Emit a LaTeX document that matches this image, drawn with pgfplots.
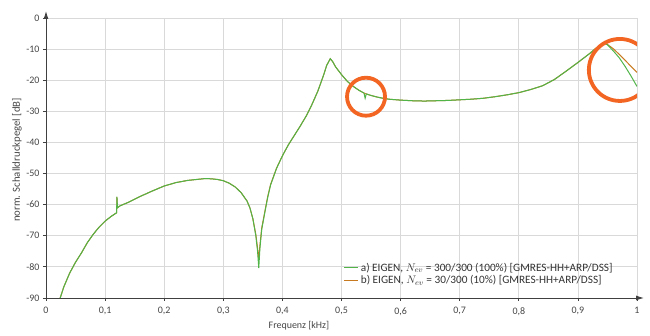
\documentclass[border=0pt]{standalone}
\usepackage{fontspec}
\setmainfont{Carlito}
\usepackage{pgfplots}
\pgfplotsset{compat=1.18}
\usetikzlibrary{calc,arrows.meta}
\definecolor{cgreen}{RGB}{80,180,72}
\definecolor{corange}{RGB}{200,122,32}
\definecolor{ccirc}{RGB}{242,101,34}
\definecolor{axisgray}{RGB}{64,64,64}
\definecolor{labelgray}{RGB}{70,70,70}
\definecolor{gridgray}{RGB}{217,217,217}
\begin{document}
\begin{tikzpicture}
\begin{axis}[
  scale only axis, width=591bp, height=280bp,
  xmin=0, xmax=1, ymin=-90, ymax=0,
  axis lines=left,
  axis line style={color=axisgray, line width=0.9bp, -{Latex[length=8bp,width=5bp]}, shorten >=-7bp},
  xtick={0,0.1,0.2,0.3,0.4,0.5,0.6,0.7,0.8,0.9,1},
  ytick={-90,-80,-70,-60,-50,-40,-30,-20,-10,0},
  grid=major, major grid style={color=gridgray, line width=0.8bp},
  tick align=outside, major tick length=3bp,
  tick style={color=axisgray, line width=0.8bp},
  /pgf/number format/use comma,
  /pgf/number format/assume math mode=true,
  ticklabel style={font=\fontsize{10}{11}\selectfont, color=labelgray},
  xticklabel style={yshift=-3bp},
  legend cell align=left,
  legend style={draw=none, fill=none, at={(rel axis cs:0.502,0.137)}, anchor=north west,
    font=\fontsize{11.3}{12}\selectfont, text=black!80, row sep=-1pt, inner sep=1pt},
  legend image code/.code={\draw[#1] (0bp,0bp) -- (14bp,0bp);},
]
\coordinate (sw) at (rel axis cs:0,0);
\coordinate (ne) at (rel axis cs:1,1);
\addlegendimage{cgreen, line width=1bp}
\addlegendentry{a) EIGEN, $N_{ev}$ = 300/300 (100\%) [GMRES-HH+ARP/DSS]}
\addlegendimage{corange, line width=1bp}
\addlegendentry{b) EIGEN, $N_{ev}$ = 30/300 (10\%) [GMRES-HH+ARP/DSS]}
% b) orange
\addplot[corange, line width=1bp, forget plot] coordinates {
(0.024,-90) (0.03,-86.5) (0.04,-82) (0.05,-78.5) (0.06,-75.5) (0.07,-72.2) (0.08,-69.5) (0.09,-67.2)
(0.10,-65.3) (0.11,-63.8) (0.1195,-62.6) (0.1200,-57.6) (0.1210,-61) (0.125,-60.4) (0.135,-59.6)
(0.14,-59.2) (0.16,-57.3) (0.18,-55.6) (0.20,-54.0) (0.22,-52.9) (0.24,-52.2) (0.26,-51.8) (0.27,-51.6)
(0.28,-51.7) (0.29,-51.9) (0.30,-52.3) (0.31,-53.1) (0.32,-54.3) (0.33,-56.1) (0.34,-58.8) (0.345,-61)
(0.35,-64.5) (0.355,-69.5) (0.358,-74) (0.360,-77.5) (0.362,-73) (0.365,-67.5) (0.37,-62.5) (0.375,-57.5)
(0.38,-53.5) (0.39,-48.3) (0.40,-44.3) (0.41,-40.8) (0.42,-37.8) (0.43,-34.8) (0.44,-31.6) (0.45,-27.8)
(0.46,-23.5) (0.47,-18.2) (0.475,-15.2) (0.481,-13.1) (0.485,-14.0) (0.49,-15.7) (0.50,-18.2) (0.51,-20.4)
(0.52,-22.0) (0.53,-23.3) (0.54,-24.3) (0.55,-24.9) (0.56,-25.4) (0.57,-25.8) (0.58,-26.1) (0.60,-26.4)
(0.62,-26.6) (0.64,-26.7) (0.66,-26.6) (0.68,-26.5) (0.70,-26.3) (0.72,-26.1) (0.74,-25.8) (0.76,-25.3)
(0.78,-24.7) (0.80,-24.0) (0.82,-23.0) (0.84,-21.8) (0.86,-19.8) (0.88,-17.1) (0.90,-14.3) (0.92,-11.4)
(0.93,-9.8) (0.94,-8.6) (0.946,-8.2) (0.95,-8.5) (0.96,-9.9) (0.97,-11.7) (0.98,-13.6) (0.99,-15.6) (1.00,-17.5)
};
% a) green
\addplot[cgreen, line width=1bp, forget plot] coordinates {
(0.024,-90) (0.03,-86.5) (0.04,-82) (0.05,-78.5) (0.06,-75.5) (0.07,-72.2) (0.08,-69.5) (0.09,-67.2)
(0.10,-65.3) (0.11,-63.8) (0.1195,-62.6) (0.1200,-57.4) (0.1210,-61) (0.125,-60.4) (0.135,-59.6)
(0.14,-59.2) (0.16,-57.3) (0.18,-55.6) (0.20,-54.0) (0.22,-52.9) (0.24,-52.2) (0.26,-51.8) (0.27,-51.6)
(0.28,-51.7) (0.29,-51.9) (0.30,-52.3) (0.31,-53.1) (0.32,-54.3) (0.33,-56.1) (0.34,-58.8) (0.345,-61)
(0.35,-64.5) (0.355,-70) (0.358,-75) (0.360,-80.4) (0.362,-74) (0.365,-68) (0.37,-62.8) (0.375,-57.8)
(0.38,-53.7) (0.39,-48.4) (0.40,-44.3) (0.41,-40.8) (0.42,-37.8) (0.43,-34.8) (0.44,-31.6) (0.45,-27.8)
(0.46,-23.5) (0.47,-18.2) (0.475,-15.2) (0.481,-13.1) (0.485,-14.0) (0.49,-15.7) (0.50,-18.2) (0.51,-20.4)
(0.52,-22.0) (0.53,-23.3) (0.538,-24.1) (0.540,-25.8) (0.542,-24.4) (0.55,-24.9) (0.56,-25.4) (0.57,-25.8)
(0.58,-26.1) (0.60,-26.4) (0.62,-26.6) (0.64,-26.7) (0.66,-26.6) (0.68,-26.5) (0.70,-26.3) (0.72,-26.1)
(0.74,-25.8) (0.76,-25.3) (0.78,-24.7) (0.80,-24.0) (0.82,-23.0) (0.84,-21.8) (0.86,-19.8) (0.88,-17.1)
(0.90,-14.3) (0.92,-11.4) (0.93,-9.8) (0.94,-8.6) (0.946,-8.2) (0.95,-8.6) (0.96,-10.6) (0.97,-12.8)
(0.98,-15.6) (0.99,-18.7) (1.00,-22.0)
};
\draw[ccirc, line width=3.8bp] (axis cs:0.5415,-25.3) circle[radius=19bp];
\draw[ccirc, line width=3.8bp] (axis cs:0.971,-16.7) circle[radius=31bp];
\end{axis}
\node[rotate=90, font=\fontsize{10.8}{12}\selectfont, text=labelgray] at ($(sw)!0.5!(sw|-ne)+(-29bp,-2bp)$) {norm. Schalldruckpegel [dB]};
\node[font=\fontsize{10}{11}\selectfont, text=labelgray] at ($(sw)!0.428!(sw-|ne)+(0,-28bp)$) {Frequenz [kHz]};
\pgfresetboundingbox
\path ($(sw)+(-46bp,-38bp)$) rectangle ($(ne)+(13bp,18bp)$);
\end{tikzpicture}
\end{document}
